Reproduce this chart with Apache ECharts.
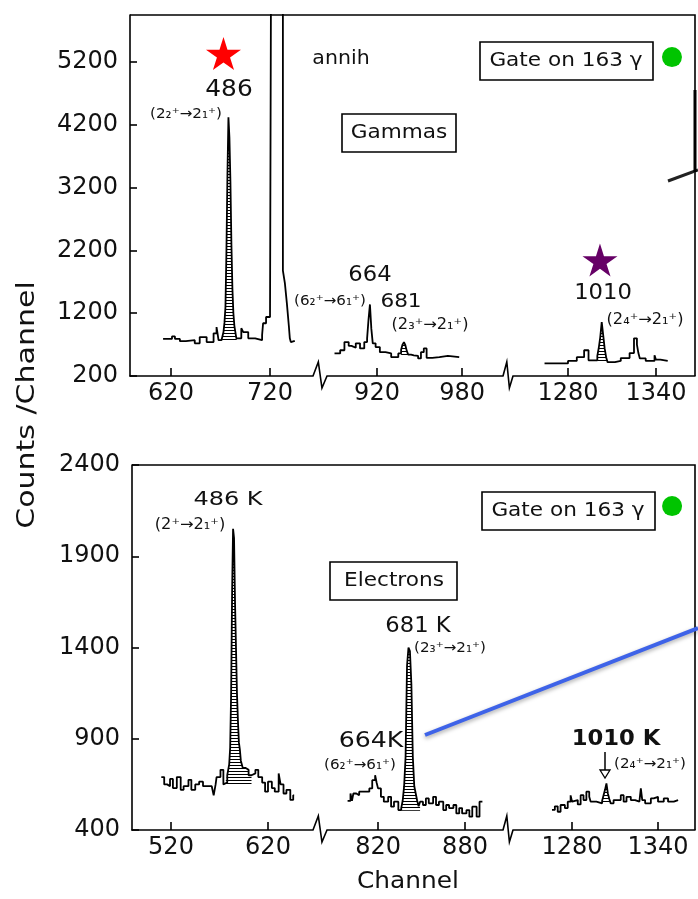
<!DOCTYPE html>
<html>
<head>
<meta charset="utf-8">
<title>Gate on 163 gamma - gammas and electrons</title>
<script src="https://cdn.jsdelivr.net/npm/echarts@6/dist/echarts.min.js"></script>
<style>
    html, body, #main { width: 100%; height: 100%; margin: 0; padding: 0; background: #fff; }
</style>
</head>
<body>
<div id="main"></div>
<script>
// values: [channel, counts], drawn as steps
var gammaYTicks = [200, 1200, 2200, 3200, 4200, 5200];
var electronYTicks = [400, 900, 1400, 1900, 2400];
var gammaXTicks = [[620, 720], [920, 980], [1280, 1340]];
var electronXTicks = [[520, 620], [820, 880], [1280, 1340]];

var gammaSeg1 = [[612,790],[621,830],[624,790],[629,755],[635,770],[644,720],[649,820],[656,740],[663,880],[666,980],[667,880],[668,770],
  [671,750],[672,800],[673,900],[674,1050],[675,1300],[676,2200],[677,3400],[678,4320],[679,4000],[680,3300],[681,2300],[682,1600],[683,1200],[684,1000],[685,900],[686,800],[687,800],
  [691,960],[693,900],[698,800],[705,770],[712,850],[713,1040],[716,1140],[720,1200],[722,12000],[733,1880],[735,1680],[737,1360],[739,1000],[740,800],[741,740],[743,760],[745,760]];
var gammaSeg2 = [[890,560],[894,610],[897,740],[900,680],[902,650],[905,720],[908,640],[911,740],[913,800],[914,1100],[915,1340],[916,950],[917,720],[919,660],[922,580],[926,560],[930,500],
  [935,560],[937,620],[938,700],[939,740],[940,690],[941,600],[942,540],[944,530],[946,520],[949,480],[951,580],[953,640],[955,490],[959,500],[964,520],[970,500],[978,500]];
var gammaSeg3 = [[1264,400],[1280,440],[1286,500],[1291,610],[1294,450],[1300,520],[1301,650],[1302,820],[1303,1060],[1304,850],[1305,640],[1306,500],[1307,420],[1312,440],[1316,485],
  [1322,565],[1325,800],[1327,700],[1328,565],[1329,480],[1333,440],[1339,530],[1340,460],[1343,440],[1348,440]];

var electronSeg1 = [[510,690],[513,650],[516,640],[519,680],[522,630],[526,690],[530,620],[533,640],[538,675],[541,620],[545,650],[549,665],[553,640],[562,640],[564,590],[566,650],[567,690],[571,730],[574,650],
  [576,660],[578,700],[580,760],[581,850],[582,1150],[583,1700],[584,2050],[585,2000],[586,1650],[587,1400],[588,1150],[589,1000],[590,880],[591,840],[592,780],[594,740],[597,730],[600,700],[603,710],
  [607,730],[610,690],[614,660],[617,610],[620,665],[624,630],[627,610],[631,710],[633,650],[636,600],[639,620],[643,565],[646,590],[647,590]];
var electronSeg2 = [[799,560],[801,600],[802,560],[803,600],[805,590],[807,610],[810,610],[814,628],[816,673],[818,700],[819,660],[820,628],[822,582],[824,555],[827,582],[829,528],[831,555],[834,509],
  [836,520],[837,560],[838,640],[839,800],[840,1300],[841,1400],[842,1380],[843,1200],[844,800],[845,640],[846,600],[847,560],[848,530],[849,555],
  [851,537],[853,573],[855,546],[858,582],[860,537],[862,555],[865,509],[867,537],[869,520],[872,537],[874,491],[876,520],[878,491],[881,509],[883,473],[885,528],[888,473],[890,555],[892,555]];
var electronSeg3 = [[1266,510],[1268,530],[1270,500],[1272,537],[1275,520],[1277,555],[1279,590],[1280,555],[1281,564],[1284,540],[1286,591],[1288,564],[1290,610],[1292,582],[1293,555],[1297,546],
  [1301,560],[1302,590],[1303,620],[1304,655],[1305,600],[1306,570],[1307,546],[1309,564],[1314,591],[1316,555],[1318,582],[1321,564],[1324,555],[1327,560],[1328,628],[1329,564],[1331,546],
  [1335,573],[1337,582],[1340,555],[1344,573],[1347,555],[1351,564],[1354,564]];

// hatched peaks: [from channel, to channel, base counts]
var gammaHatch = [[671, 687, 745], [937, 942, 520], [1300, 1307, 440]];
var electronHatch = [[576, 603, 650], [836, 849, 505], [1301, 1307, 545]];

var redStar = [[673, 5335]];
var purpleStar = [[1301.8, 2047]];
var gammaDot = [[1350.9, 5280]];
var electronDot = [[1349.8, 2175]];

var FONT = '"DejaVu Sans"';
var INK = '#111';

var chart = echarts.init(document.getElementById('main'));

var hatchCanvas = document.createElement('canvas');
hatchCanvas.width = 4; hatchCanvas.height = 3;
var hctx = hatchCanvas.getContext('2d');
hctx.fillStyle = '#000';
hctx.fillRect(0, 0, 4, 1);

var panels = [
  { top: 15, height: 361, yMin: 200, yMax: 5950, yTicks: gammaYTicks, segs: [
    { left: 130, width: 183, min: 578.6, max: 763.4, ticks: gammaXTicks[0], data: gammaSeg1, hatch: gammaHatch[0] },
    { left: 327, width: 176, min: 884.7, max: 1008.9, ticks: gammaXTicks[1], data: gammaSeg2, hatch: gammaHatch[1] },
    { left: 513, width: 182, min: 1242.5, max: 1366.6, ticks: gammaXTicks[2], data: gammaSeg3, hatch: gammaHatch[2] }
  ] },
  { top: 465, height: 365, yMin: 400, yMax: 2400, yTicks: electronYTicks, segs: [
    { left: 132, width: 181, min: 479.8, max: 666.4, ticks: electronXTicks[0], data: electronSeg1, hatch: electronHatch[0] },
    { left: 327, width: 176, min: 784.8, max: 906.2, ticks: electronXTicks[1], data: electronSeg2, hatch: electronHatch[1] },
    { left: 513, width: 182, min: 1238.8, max: 1365.8, ticks: electronXTicks[2], data: electronSeg3, hatch: electronHatch[2] }
  ] }
];

var grids = [], xAxes = [], yAxes = [], series = [], graphics = [];
var black = { color: '#000', width: 1.6 };
var plain = function (v) { return String(v); };

panels.forEach(function (p) {
  p.segs.forEach(function (s, si) {
    var gi = grids.length;
    grids.push({ left: s.left, top: p.top, width: s.width, height: p.height });
    xAxes.push({
      gridIndex: gi, type: 'value', min: s.min, max: s.max,
      axisLine: { show: true, onZero: false, lineStyle: black },
      axisTick: { show: true, inside: true, length: 8, customValues: s.ticks, lineStyle: black },
      axisLabel: { show: true, customValues: s.ticks, margin: 6, fontSize: 24, color: INK, fontFamily: FONT, formatter: plain },
      splitLine: { show: false }
    });
    yAxes.push({
      gridIndex: gi, type: 'value', min: p.yMin, max: p.yMax, show: si === 0,
      axisLine: { show: true, lineStyle: black },
      axisTick: { show: true, inside: true, length: 7, customValues: p.yTicks, lineStyle: black },
      axisLabel: { show: true, customValues: p.yTicks, margin: 12, fontSize: 24, color: INK, fontFamily: FONT, formatter: plain },
      splitLine: { show: false }
    });
    series.push({
      type: 'line', xAxisIndex: gi, yAxisIndex: gi, data: s.data, step: 'end',
      symbol: 'none', lineStyle: { color: '#000', width: 1.8 }, z: 3
    });
    var h = s.hatch;
    series.push({
      type: 'line', xAxisIndex: gi, yAxisIndex: gi, step: 'end', symbol: 'none',
      data: s.data.filter(function (d) { return d[0] >= h[0] && d[0] <= h[1]; }),
      lineStyle: { width: 0 },
      areaStyle: { origin: h[2], opacity: 1, color: { image: hatchCanvas, repeat: 'repeat' } },
      z: 2
    });
  });

  // frame (top and right) and the axis breaks
  var first = p.segs[0], last = p.segs[2], yb = p.top + p.height;
  graphics.push({ type: 'polyline', shape: { points: [[first.left, p.top], [last.left + last.width, p.top], [last.left + last.width, yb]] },
    style: { stroke: '#000', lineWidth: 1.6, fill: null } });
  for (var k = 0; k < 2; k++) {
    var a = p.segs[k].left + p.segs[k].width, b = p.segs[k + 1].left, w = b - a;
    graphics.push({ type: 'polyline', shape: { points: [[a, yb], [a + w * 0.38, yb - 14], [a + w * 0.64, yb + 12], [b, yb]] },
      style: { stroke: '#000', lineWidth: 1.6, fill: null } });
  }
});

var starPath = 'path://M50,2 L61,38 L98,38 L68,60 L79,96 L50,74 L21,96 L32,60 L2,38 L39,38 Z';
series.push({ type: 'scatter', xAxisIndex: 0, yAxisIndex: 0, data: redStar, symbol: starPath, symbolSize: [35, 33], itemStyle: { color: '#ff0000', opacity: 1 }, z: 5 });
series.push({ type: 'scatter', xAxisIndex: 2, yAxisIndex: 2, data: purpleStar, symbol: starPath, symbolSize: [35, 33], itemStyle: { color: '#660066', opacity: 1 }, z: 5 });
series.push({ type: 'scatter', xAxisIndex: 2, yAxisIndex: 2, data: gammaDot, symbol: 'circle', symbolSize: 20, itemStyle: { color: '#00c400', opacity: 1 }, z: 5 });
series.push({ type: 'scatter', xAxisIndex: 5, yAxisIndex: 5, data: electronDot, symbol: 'circle', symbolSize: 20, itemStyle: { color: '#00c400', opacity: 1 }, z: 5 });

// annotations
var labels = [
  { t: '486', x: 229, y: 90, s: 23 },
  { t: '(2\u2082\u207A\u21922\u2081\u207A)', x: 186, y: 114, s: 14 },
  { t: 'annih', x: 341, y: 59, s: 19 },
  { t: 'Gammas', x: 399, y: 133, s: 20 },
  { t: 'Gate on 163 \u03B3', x: 566, y: 61, s: 20 },
  { t: '664', x: 370, y: 276, s: 21 },
  { t: '(6\u2082\u207A\u21926\u2081\u207A)', x: 330, y: 301, s: 14 },
  { t: '681', x: 401, y: 302, s: 20 },
  { t: '(2\u2083\u207A\u21922\u2081\u207A)', x: 430, y: 325, s: 15 },
  { t: '1010', x: 603, y: 294, s: 21 },
  { t: '(2\u2084\u207A\u21922\u2081\u207A)', x: 645, y: 320, s: 15 },
  { t: '486 K', x: 228, y: 500, s: 20, sx: 1.2 },
  { t: '(2\u207A\u21922\u2081\u207A)', x: 190, y: 525, s: 15 },
  { t: 'Electrons', x: 394, y: 581, s: 20 },
  { t: 'Gate on 163 \u03B3', x: 568, y: 511, s: 20 },
  { t: '681 K', x: 418, y: 627, s: 21 },
  { t: '(2\u2083\u207A\u21922\u2081\u207A)', x: 450, y: 648, s: 14 },
  { t: '664K', x: 371, y: 742, s: 21, sx: 1.2 },
  { t: '(6\u2082\u207A\u21926\u2081\u207A)', x: 360, y: 765, s: 14 },
  { t: '1010 K', x: 616, y: 740, s: 21, w: 'bold' },
  { t: '(2\u2084\u207A\u21922\u2081\u207A)', x: 650, y: 764, s: 14 },
  { t: 'Channel', x: 408, y: 882, s: 23 },
  { t: 'Counts /Channel', x: 28, y: 405, s: 24, sx: 1.25, r: Math.PI / 2 }
];
labels.forEach(function (L) {
  graphics.push({
    type: 'text', x: L.x, y: L.y, rotation: L.r || 0, scaleX: L.sx || 1.08, z: 10,
    style: { text: L.t, font: (L.w || 'normal') + ' ' + L.s + 'px ' + FONT, fill: INK,
      textAlign: 'center', textVerticalAlign: 'middle', align: 'center', verticalAlign: 'middle' }
  });
});

var boxes = [[342, 114, 114, 38], [480, 42, 173, 38], [330, 562, 127, 38], [482, 492, 173, 38]];
boxes.forEach(function (b) {
  graphics.push({ type: 'rect', shape: { x: b[0], y: b[1], width: b[2], height: b[3] },
    style: { stroke: '#000', lineWidth: 1.6, fill: null }, z: 9 });
});

// arrow under 1010 K
graphics.push({ type: 'line', shape: { x1: 605, y1: 752, x2: 605, y2: 771 }, style: { stroke: '#000', lineWidth: 1.5 }, z: 9 });
graphics.push({ type: 'polygon', shape: { points: [[600, 770], [610, 770], [605, 778]] }, style: { stroke: '#000', lineWidth: 1.3, fill: '#fff' }, z: 9 });
// pointer strokes over the scan
graphics.push({ type: 'line', shape: { x1: 425, y1: 735, x2: 698, y2: 628 },
  style: { stroke: '#3e63e8', lineWidth: 4, shadowBlur: 4, shadowColor: 'rgba(0,0,0,0.35)', shadowOffsetY: 2 }, z: 11 });
graphics.push({ type: 'line', shape: { x1: 668, y1: 181, x2: 698, y2: 170 }, style: { stroke: '#222', lineWidth: 3 }, z: 11 });
graphics.push({ type: 'line', shape: { x1: 695, y1: 90, x2: 695, y2: 172 }, style: { stroke: '#000', lineWidth: 3 }, z: 11 });

chart.setOption({
  animation: false,
  backgroundColor: '#fff',
  grid: grids,
  xAxis: xAxes,
  yAxis: yAxes,
  series: series,
  graphic: { elements: graphics }
});

window.onresize = function () { chart.resize(); };
</script>
</body>
</html>
